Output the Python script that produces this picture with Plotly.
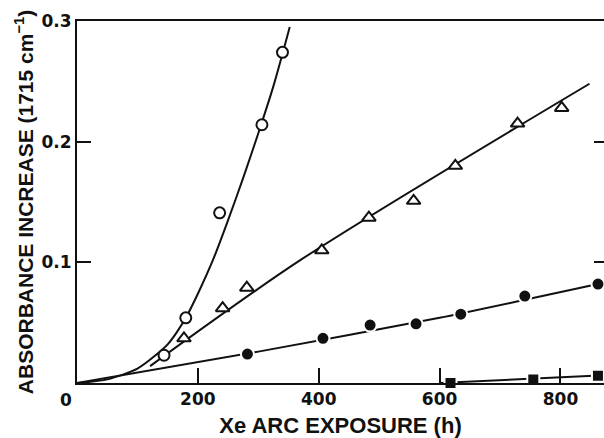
import plotly.graph_objects as go

# Open circles (data points) and their fitted curve
oc_x = [144, 180, 236, 306, 340]
oc_y = [0.023, 0.054, 0.141, 0.214, 0.274]
oc_curve_x = [0, 50, 100, 130, 150, 165, 180, 200, 225, 250, 275, 300, 325, 352]
oc_curve_y = [0, 0.003, 0.012, 0.023, 0.032, 0.042, 0.054, 0.074, 0.102, 0.135, 0.170, 0.207, 0.246, 0.295]

# Open triangles and their line
tr_x = [177, 241, 281, 405, 483, 557, 626, 729, 802]
tr_y = [0.037, 0.062, 0.079, 0.110, 0.137, 0.151, 0.180, 0.215, 0.228]
tr_line_x = [121, 370, 848]
tr_line_y = [0.014, 0.102, 0.248]

# Filled circles and their line
fc_x = [282, 407, 485, 561, 635, 741, 862]
fc_y = [0.024, 0.037, 0.048, 0.049, 0.057, 0.072, 0.082]
fc_line_x = [0, 300, 600, 862]
fc_line_y = [0, 0.026, 0.054, 0.082]

# Filled squares and their line
sq_x = [618, 755, 862]
sq_y = [0.0, 0.003, 0.006]
sq_line_x = [600, 872]
sq_line_y = [0.0, 0.0065]

x_ticks = [200, 400, 600, 800]
x_tick_text = ["200", "400", "600", "800"]
y_ticks = [0.1, 0.2, 0.3]
y_tick_text = ["0.1", "0.2", "0.3"]

TICK_FONT = "DejaVu Sans"
TITLE_FONT = "Liberation Sans"
BLACK = "#111111"

fig = go.Figure()

line_style = dict(color=BLACK, width=2)
fig.add_trace(go.Scatter(x=oc_curve_x, y=oc_curve_y, mode="lines",
                         line=dict(shape="spline", smoothing=0.8, **line_style)))
fig.add_trace(go.Scatter(x=tr_line_x, y=tr_line_y, mode="lines",
                         line=dict(shape="spline", smoothing=0.8, **line_style)))
fig.add_trace(go.Scatter(x=fc_line_x, y=fc_line_y, mode="lines",
                         line=dict(shape="spline", smoothing=0.5, **line_style)))
fig.add_trace(go.Scatter(x=sq_line_x, y=sq_line_y, mode="lines", line=line_style))

fig.add_trace(go.Scatter(x=oc_x, y=oc_y, mode="markers",
                         marker=dict(symbol="circle", size=11, color="white",
                                     line=dict(color=BLACK, width=2))))
fig.add_trace(go.Scatter(x=tr_x, y=tr_y, mode="markers",
                         marker=dict(symbol="triangle-up", size=12, color="white",
                                     line=dict(color=BLACK, width=2))))
fig.add_trace(go.Scatter(x=fc_x, y=fc_y, mode="markers",
                         marker=dict(symbol="circle", size=13, color=BLACK,
                                     line=dict(color="white", width=2))))
fig.add_trace(go.Scatter(x=sq_x, y=sq_y, mode="markers", cliponaxis=False,
                         marker=dict(symbol="square", size=12, color=BLACK,
                                     line=dict(color="white", width=2))))
# invisible trace to anchor right-hand tick axis
fig.add_trace(go.Scatter(x=[0], y=[0], yaxis="y2", mode="markers",
                         marker=dict(opacity=0), hoverinfo="skip"))

fig.add_annotation(text="0", x=0, y=0, xref="x", yref="y", showarrow=False,
                   xshift=-11, yshift=-17,
                   font=dict(family=TICK_FONT, size=17, color=BLACK, weight="bold"))

fig.update_layout(
    width=604, height=438,
    margin=dict(l=77, r=0, t=21, b=55),
    paper_bgcolor="white", plot_bgcolor="white",
    showlegend=False,
    font=dict(family=TICK_FONT, size=17, color=BLACK),
    xaxis=dict(range=[0, 872], tickvals=x_ticks, ticktext=x_tick_text,
               ticks="inside", ticklen=15, tickwidth=2, tickcolor=BLACK,
               showline=True, linecolor=BLACK, linewidth=2, mirror=True,
               showgrid=False, zeroline=False,
               tickfont=dict(family=TICK_FONT, size=17, color=BLACK, weight="bold"),
               title=dict(text="Xe ARC EXPOSURE (h)", standoff=10,
                          font=dict(family=TITLE_FONT, size=22, color=BLACK, weight="bold"))),
    yaxis=dict(range=[0, 0.3], tickvals=y_ticks, ticktext=y_tick_text,
               ticks="inside", ticklen=14, tickwidth=2, tickcolor=BLACK,
               showline=True, linecolor=BLACK, linewidth=2, mirror=False,
               showgrid=False, zeroline=False,
               tickfont=dict(family=TICK_FONT, size=17, color=BLACK, weight="bold"),
               title=dict(text="ABSORBANCE INCREASE (1715 cm<sup>\u22121</sup>)", standoff=2,
                          font=dict(family=TITLE_FONT, size=21, color=BLACK, weight="bold"))),
    yaxis2=dict(range=[0, 0.3], overlaying="y", side="right", tickvals=[0.1, 0.2],
                ticks="inside", ticklen=10, tickwidth=2, tickcolor=BLACK,
                showticklabels=False, showline=False, showgrid=False, zeroline=False),
)

fig.write_html("out.html")
